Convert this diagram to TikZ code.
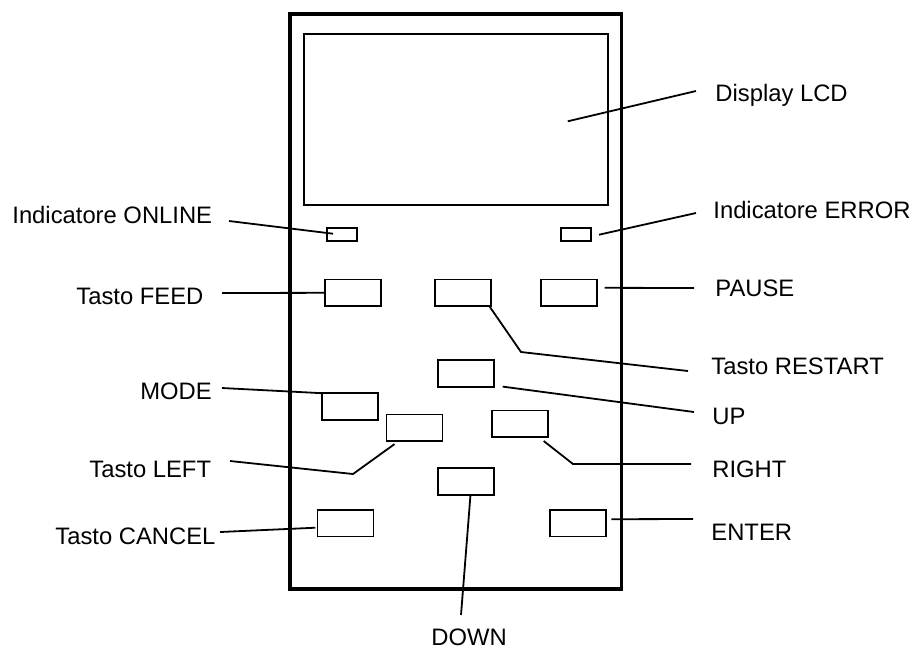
\documentclass[tikz,border=0pt]{standalone}
\usepackage{fontspec}
\setmainfont{Liberation Sans}
\usetikzlibrary{calc}

\begin{document}
\begin{tikzpicture}[
    x=0.5pt, y=-0.5pt,
    frame/.style={draw, line width=1.8pt, outer sep=0pt, inner sep=0pt,
                  minimum width=165.75pt, minimum height=287.5pt},
    screen/.style={draw, line width=0.9pt, outer sep=0pt, inner sep=0pt,
                   minimum width=152pt, minimum height=85.7pt},
    led/.style={draw, line width=0.9pt, outer sep=0pt, inner sep=0pt,
                minimum width=15pt, minimum height=6.5pt},
    key/.style={draw, line width=0.9pt, outer sep=0pt, inner sep=0pt,
                minimum width=28pt, minimum height=13.3pt},
    lbl/.style={anchor=base west, inner sep=0pt,
                font=\fontsize{11.9}{14}\selectfont},
    lead/.style={draw, line width=0.9pt}
  ]
  \useasboundingbox (0,0) rectangle (914,650);

  % printer panel
  \node[frame] (panel) at (455.75,301.5) {};
  \node[screen] (lcd) at (455.7,119.3) {};
  \node[led] (online) at (342,234.7) {};
  \node[led] (error) at (576,234.7) {};

  % keys
  \node[key] (feed) at (352.8,292.8) {};
  \node[key] (restart) at (463.3,292.8) {};
  \node[key] (pause) at (568.7,292.8) {};
  \node[key] (up) at (465.7,373.3) {};
  \node[key] (mode) at (350.2,406.5) {};
  \node[key] (left) at (414.5,427.8) {};
  \node[key] (right) at (519.7,423.7) {};
  \node[key] (down) at (466,481.3) {};
  \node[key] (cancel) at (345.4,523.2) {};
  \node[key] (enter) at (578.3,523.2) {};

  % labels
  \node[lbl] (lcdlbl) at (715,101) {Display LCD};
  \node[lbl] (onlinelbl) at (12,223) {Indicatore ONLINE};
  \node[lbl] (errorlbl) at (713,218) {Indicatore ERROR};
  \node[lbl] (feedlbl) at (76,304) {Tasto FEED};
  \node[lbl] (pauselbl) at (715,296) {PAUSE};
  \node[lbl] (restartlbl) at (711,374) {Tasto RESTART};
  \node[lbl] (modelbl) at (140,399) {MODE};
  \node[lbl] (uplbl) at (712,424) {UP};
  \node[lbl] (leftlbl) at (89,477) {Tasto LEFT};
  \node[lbl] (rightlbl) at (712,477) {RIGHT};
  \node[lbl] (cancellbl) at (55,544) {Tasto CANCEL};
  \node[lbl] (enterlbl) at (711,540) {ENTER};
  \node[lbl] (downlbl) at (431,645) {DOWN};

  % leader ends and bends
  \coordinate (lcdend) at (696,91);
  \coordinate (onlineend) at (229,221);
  \coordinate (errorend) at (696,213);
  \coordinate (feedend) at (222,293);
  \coordinate (pauseend) at (694,288);
  \coordinate (restartbend) at (521,352);
  \coordinate (restartend) at (688,371);
  \coordinate (modeend) at (222,388);
  \coordinate (upend) at (694,412);
  \coordinate (leftbend) at (353,474);
  \coordinate (leftend) at (230,461);
  \coordinate (rightbend) at (573,464);
  \coordinate (rightend) at (691,464);
  \coordinate (cancelend) at (220,532);
  \coordinate (enterend) at (693,519);
  \coordinate (downend) at (461,615);

  % leaders
  \draw[lead] ($(lcd.center)+(112,2)$) -- (lcdend);
  \draw[lead] ($(online.west)+(6,-1)$) -- (onlineend);
  \draw[lead] ($(error.east)+(8,0)$) -- (errorend);
  \draw[lead] (feed.west) -- (feedend);
  \draw[lead] ($(pause.east)+(8,-5)$) -- (pauseend);
  \draw[lead] ($(restart.south east)+(-2,0)$) -- (restartbend) -- (restartend);
  \draw[lead] (mode.north west) -- (modeend);
  \draw[lead] ($(up.south east)+(9,0)$) -- (upend);
  \draw[lead] ($(left.south west)+(8,3)$) -- (leftbend) -- (leftend);
  \draw[lead] ($(right.south east)+(-4,4)$) -- (rightbend) -- (rightend);
  \draw[lead] ($(down.south)+(4.5,0)$) -- (downend);
  \draw[lead] ($(cancel.west)+(-2,4.5)$) -- (cancelend);
  \draw[lead] ($(enter.east)+(5,-4)$) -- (enterend);
\end{tikzpicture}
\end{document}
